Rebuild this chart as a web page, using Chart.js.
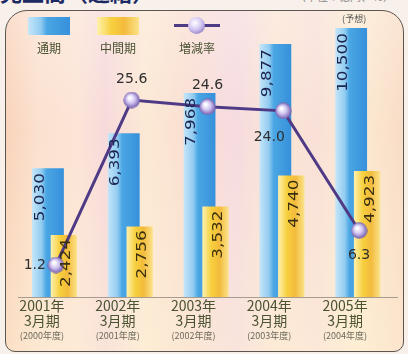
<!DOCTYPE html>
<html lang="ja">
<head>
<meta charset="utf-8">
<script src="https://cdn.jsdelivr.net/npm/chart.js@4.4.1/dist/chart.umd.min.js"></script>
<style>
  html, body { margin: 0; padding: 0; }
  body {
    width: 408px; height: 354px; overflow: hidden; position: relative;
    background: #f8f0ea;
    font-family: "Noto Sans CJK JP", sans-serif;
  }
  #title { position: absolute; left: 0; top: -25px; font-size: 22px; font-weight: bold; color: #1c2a63; white-space: nowrap; }
  #unit { position: absolute; right: 14px; top: -12px; font-size: 11px; color: #8a8a8a; white-space: nowrap; }
  #frame {
    position: absolute; left: 5px; top: 10px; width: 397px; height: 340px;
    border: 1.5px solid #5b5650; border-radius: 22px 22px 10px 10px;
    background:
      linear-gradient(180deg, rgba(255,255,255,0.25) 0%, rgba(255,255,255,0) 35%, rgba(255,246,215,0.35) 100%),
      linear-gradient(90deg, #f9d3bb 0%, #fbe1cf 8%, #fce4d6 18%, #f7dadb 25%, #fce9d4 35%, #fadfd2 45%,
        #f6dbe0 58%, #fbe5d4 68%, #f9e0d8 78%, #fcebd2 88%, #f9dcc6 100%);
  }
  canvas { position: absolute; left: 0; top: 0; }
  .item { position: absolute; top: 17px; width: 60px; text-align: center; font-size: 12px; color: #4a5232; }
  .sw { width: 42px; height: 18px; margin: 0 auto 4px; }
  .mk { position: relative; width: 46px; height: 18px; margin: 0 auto 4px; }
  .mk .ln { position: absolute; left: 0; right: 0; top: 7px; height: 3px; background: #4f3a86; }
  .mk .pt { position: absolute; left: 14px; top: 0; width: 17px; height: 17px; border-radius: 50%;
    background: radial-gradient(circle at 40% 35%, #ffffff 0%, #d2c6f2 45%, #6d56a8 100%); }
</style>
</head>
<body>
<div id="title">売上高（連結）</div>
<div id="unit">（単位：億円、％）</div>
<div id="frame"></div>
<canvas id="chart" width="408" height="354"></canvas>
<div id="legend"></div>
<script>
'use strict';

// data
const categories = [['2001年', '3月期'], ['2002年', '3月期'], ['2003年', '3月期'], ['2004年', '3月期'], ['2005年', '3月期']];
const fiscalYears = ['(2000年度)', '(2001年度)', '(2002年度)', '(2003年度)', '(2004年度)'];
const fullYear = [5030, 6393, 7968, 9877, 10500];   // 通期
const interim = [2424, 2756, 3532, 4740, 4923];     // 中間期
const rate = [1.2, 25.6, 24.6, 24.0, 6.3];          // 増減率
const notes = ['', '', '', '', '(予想)'];

// where each rate label sits relative to its point
const ratePlace = ['left', 'above', 'above', 'belowleft', 'below'];

const catPct = 0.42;
const blueStops = [[0, '#c6e6f8'], [0.3, '#92ccf1'], [0.45, '#4ba6e4'], [1, '#3690db']];
const yellowStops = [[0, '#fff1ae'], [0.35, '#f7cf3c'], [0.65, '#f3bb3c'], [1, '#fbe38a']];

function barFill(stops, side, barPct) {
  return function (c) {
    const chart = c.chart;
    const x = chart.scales.x;
    if (!x || !chart.chartArea || c.type !== 'data') return stops[2][1];
    const step = x.width / categories.length;
    const slot = step * catPct / 2;
    const center = x.getPixelForValue(c.dataIndex) + side * slot / 2;
    const w = slot * barPct;
    const g = chart.ctx.createLinearGradient(center - w / 2, 0, center + w / 2, 0);
    stops.forEach(s => g.addColorStop(s[0], s[1]));
    return g;
  };
}

// sphere marker
const sphere = document.createElement('canvas');
sphere.width = sphere.height = 17;
const sc = sphere.getContext('2d');
const sg = sc.createRadialGradient(6.5, 6, 1, 8.5, 8.5, 8.5);
sg.addColorStop(0, '#ffffff');
sg.addColorStop(0.45, '#d2c6f2');
sg.addColorStop(1, '#6d56a8');
sc.fillStyle = sg;
sc.beginPath();
sc.arc(8.5, 8.5, 8.2, 0, Math.PI * 2);
sc.fill();

function vtext(ctx, text, x, yTop, color) {
  ctx.save();
  ctx.translate(x, yTop);
  ctx.rotate(-Math.PI / 2);
  ctx.scale(1.2, 1);
  ctx.font = '14px "DejaVu Sans"';
  ctx.fillStyle = color;
  ctx.textAlign = 'right';
  ctx.textBaseline = 'middle';
  ctx.fillText(text, 0, 0);
  ctx.restore();
}

const labelPlugin = {
  id: 'labels',
  beforeDatasetDraw(chart, args) {
    if (args.index === 2) return false;
  },
  afterDatasetDraw(chart, args) {
    // yellow goes in front of blue
    if (args.index === 1) chart.getDatasetMeta(2).controller.draw();
  },
  afterDatasetsDraw(chart) {
    const ctx = chart.ctx;
    const blue = chart.getDatasetMeta(1).data;
    const yellow = chart.getDatasetMeta(2).data;
    const pts = chart.getDatasetMeta(0).data;

    blue.forEach((b, i) => {
      vtext(ctx, fullYear[i].toLocaleString('en-US'), b.x - 8, b.y + 5, '#1b2450');
      if (notes[i]) {
        ctx.save();
        ctx.font = '9px "Noto Sans CJK JP"';
        ctx.fillStyle = '#555';
        ctx.textAlign = 'center';
        ctx.textBaseline = 'middle';
        ctx.fillText(notes[i], b.x + 3, b.y - 10);
        ctx.restore();
      }
    });
    yellow.forEach((b, i) => {
      vtext(ctx, interim[i].toLocaleString('en-US'), b.x + 3, b.y + 4, '#3a3010');
    });

    ctx.save();
    ctx.font = '14px "DejaVu Sans"';
    ctx.fillStyle = '#2e2e2e';
    ctx.textBaseline = 'middle';
    pts.forEach((p, i) => {
      const t = rate[i].toFixed(1);
      const where = ratePlace[i];
      if (where === 'left') { ctx.textAlign = 'right'; ctx.fillText(t, p.x - 10, p.y); }
      else if (where === 'above') { ctx.textAlign = 'center'; ctx.fillText(t, p.x, p.y - 21); }
      else if (where === 'belowleft') { ctx.textAlign = 'center'; ctx.fillText(t, p.x - 14, p.y + 27); }
      else { ctx.textAlign = 'center'; ctx.fillText(t, p.x, p.y + 25); }
    });
    ctx.restore();
  },
  afterDraw(chart) {
    const ctx = chart.ctx;
    const x = chart.scales.x;
    ctx.save();
    ctx.font = '9px "Noto Sans CJK JP"';
    ctx.fillStyle = '#6a6a5a';
    ctx.textAlign = 'center';
    ctx.textBaseline = 'middle';
    fiscalYears.forEach((f, i) => ctx.fillText(f, x.getPixelForTick(i) - 14, 336));
    ctx.restore();
  }
};

const chart = new Chart(document.getElementById('chart'), {
  type: 'bar',
  data: {
    labels: categories,
    datasets: [
      {
        type: 'line',
        label: '増減率',
        data: rate,
        yAxisID: 'y1',
        borderColor: '#4f3a86',
        borderWidth: 3,
        pointStyle: sphere,
        pointRadius: 8,
        tension: 0
      },
      {
        label: '通期',
        data: fullYear,
        yAxisID: 'y',
        backgroundColor: barFill(blueStops, -1, 2.0),
        categoryPercentage: catPct,
        barPercentage: 2.0
      },
      {
        label: '中間期',
        data: interim,
        yAxisID: 'y',
        backgroundColor: barFill(yellowStops, 1, 1.65),
        categoryPercentage: catPct,
        barPercentage: 1.65
      }
    ]
  },
  options: {
    responsive: false,
    animation: false,
    layout: { padding: { left: 18, right: 4, top: 14, bottom: 0 } },
    plugins: { legend: { display: false }, tooltip: { enabled: false } },
    scales: {
      x: {
        grid: { display: false, drawTicks: false },
        border: { display: true, color: '#a89c90', dash: [2, 2] },
        ticks: {
          color: '#4a5232',
          font: { family: '"Noto Sans CJK JP"', size: 14, lineHeight: 1.08 },
          padding: 1,
          labelOffset: -14,
          maxRotation: 0,
          autoSkip: false
        },
        afterFit(s) { s.height = 57; }
      },
      y: { display: false, min: 0, max: 11050 },
      y1: { display: false, min: -3.53, max: 38.32 }
    }
  },
  plugins: [labelPlugin]
});

// legend: swatch above label
const legend = document.getElementById('legend');
const lefts = [19, 88, 167];
chart.data.datasets.slice(1).concat(chart.data.datasets[0]).forEach((ds, i) => {
  const item = document.createElement('div');
  item.className = 'item';
  item.style.left = lefts[i] + 'px';
  let mark;
  if (ds.type === 'line') {
    mark = '<div class="mk"><div class="ln"></div><div class="pt"></div></div>';
  } else {
    const stops = i === 0 ? blueStops : yellowStops;
    const grad = 'linear-gradient(90deg,' + stops.map(s => s[1] + ' ' + (s[0] * 100) + '%').join(',') + ')';
    mark = '<div class="sw" style="background:' + grad + '"></div>';
  }
  item.innerHTML = mark + '<span>' + ds.label + '</span>';
  legend.appendChild(item);
});
</script>
</body>
</html>
